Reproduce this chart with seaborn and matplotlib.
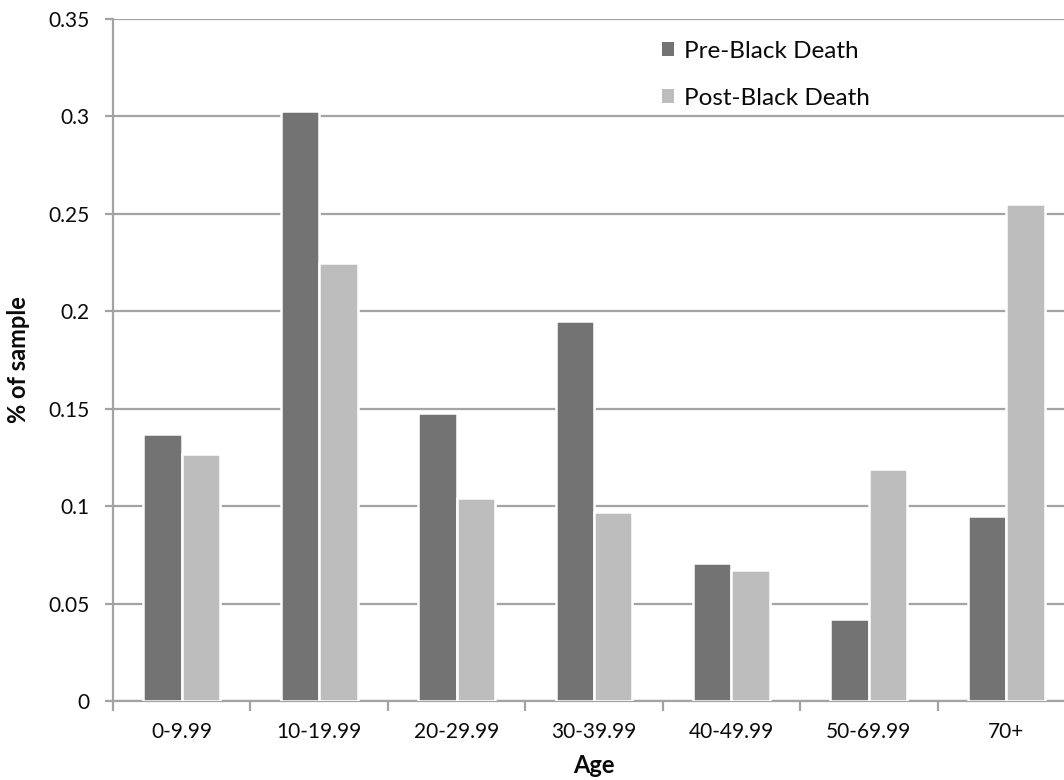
import matplotlib
matplotlib.use("Agg")
import matplotlib.pyplot as plt
import seaborn as sns
import pandas as pd
import numpy as np

ages = ["0-9.99", "10-19.99", "20-29.99", "30-39.99", "40-49.99", "50-69.99", "70+"]
pre_black_death = [0.137, 0.303, 0.148, 0.195, 0.071, 0.042, 0.095]
post_black_death = [0.127, 0.225, 0.104, 0.097, 0.067, 0.119, 0.255]
series = ["Pre-Black Death", "Post-Black Death"]
yticks = [0, 0.05, 0.1, 0.15, 0.2, 0.25, 0.3, 0.35]
ytick_labels = ["0", "0.05", "0.1", "0.15", "0.2", "0.25", "0.3", "0.35"]

df = pd.DataFrame({
    "Age": ages * 2,
    "value": pre_black_death + post_black_death,
    "Series": [series[0]] * len(ages) + [series[1]] * len(ages),
})

sns.set_theme(style="white")
plt.rcParams['font.family'] = ['Lato', 'DejaVu Sans']

fig = plt.figure(figsize=(10.64, 7.80), dpi=100)
ax = fig.add_axes([113/1064, 1 - 701/780, (1075 - 113)/1064, (701 - 19)/780])

grid_c = "#a3a3a3"
txt_c = "#0a0a0a"
sns.barplot(data=df, x="Age", y="value", hue="Series", order=ages, hue_order=series,
            palette=["#737373", "#bdbdbd"], width=0.56, saturation=1,
            edgecolor="white", linewidth=1.8, ax=ax, zorder=3)

ax.set_ylim(0, 0.35)
ax.set_xlim(-0.5, len(ages) - 0.5)
ax.set_yticks(yticks)
ax.set_yticklabels(ytick_labels)
ax.yaxis.grid(True, color=grid_c, linewidth=1.6, zorder=0)
ax.set_axisbelow(True)

for s in ["top", "right"]:
    ax.spines[s].set_visible(False)
for s in ["left", "bottom"]:
    ax.spines[s].set_color(grid_c)
    ax.spines[s].set_linewidth(1.6)

ax.tick_params(axis="y", which="major", length=6, width=1.6, color=grid_c, pad=11,
               labelsize=15, labelcolor=txt_c, left=True)
# category labels at centers, tick marks at category boundaries
ax.tick_params(axis="x", which="major", length=0, pad=15, labelsize=15, labelcolor=txt_c)
ax.set_xticks(np.arange(-0.5, len(ages), 1.0), minor=True)
ax.tick_params(axis="x", which="minor", length=7, width=1.6, color=grid_c, bottom=True)

ax.set_xlabel("Age", fontsize=17, fontweight="bold", color=txt_c, labelpad=9)
ax.set_ylabel("% of sample", fontsize=17, fontweight="bold", color=txt_c, labelpad=13)

leg = ax.legend(loc="upper left", bbox_to_anchor=(662/1064, 1 - 41/780),
                bbox_transform=fig.transFigure, frameon=False, fontsize=17.5,
                handlelength=0.5, handleheight=0.5, handletextpad=0.4,
                labelspacing=1.05, borderpad=0, borderaxespad=0)
for h in leg.legend_handles:
    h.set_edgecolor("none")
for t in leg.get_texts():
    t.set_color(txt_c)

fig.savefig("out.png", dpi=100)
